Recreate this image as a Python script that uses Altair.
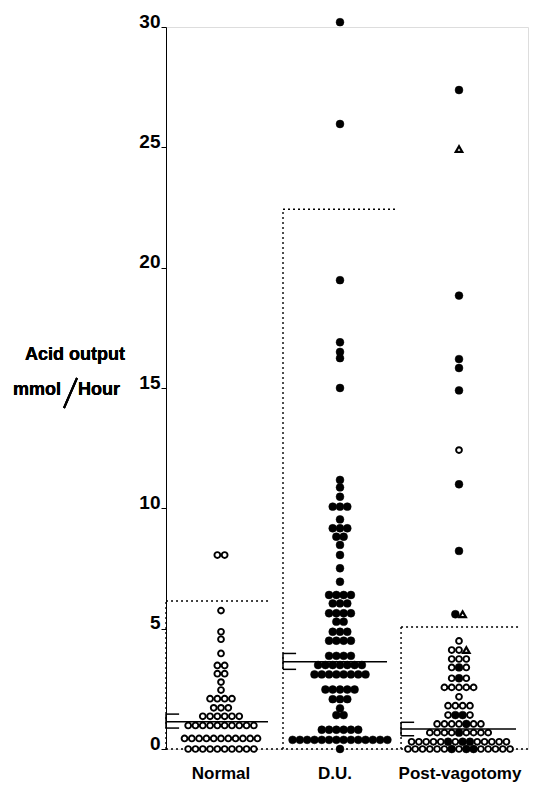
import altair as alt
import pandas as pd

groups = ["Normal", "D.U.", "Post-vagotomy"]

# rows of the dot plot: (acid output, marker kinds; o = open, f = filled, t = triangle)
normal_rows = [
    (8.06, "oo"), (5.75, "o"), (4.87, "o"), (4.56, "o"), (3.97, "o"),
    (3.47, "oo"), (3.13, "oo"), (2.78, "o"), (2.45, "o"), (2.09, "oooo"),
    (1.71, "ooo"), (1.36, "oooooo"), (0.98, "oooooooooo"),
    (0.44, "ooooooooooo"), (0.0, "oooooooooo"),
]
du_rows = [
    (30.2, "f"), (25.97, "f"), (19.48, "f"), (16.9, "f"), (16.5, "f"), (16.24, "f"),
    (15.0, "f"), (11.18, "f"), (10.87, "f"), (10.48, "f"), (10.07, "fff"),
    (9.54, "f"), (9.17, "fff"), (8.82, "ff"), (8.48, "f"), (8.06, "f"),
    (7.51, "f"), (6.95, "f"), (6.40, "ffff"), (6.05, "fff"), (5.64, "ffff"),
    (5.29, "ff"), (4.87, "fff"), (4.50, "ffff"), (3.87, "ffff"), (3.49, "fffffff"),
    (3.10, "ffffffff"), (2.47, "fffff"), (2.07, "fff"), (1.69, "f"), (1.41, "ff"),
    (0.80, "ffffff"), (0.38, "ffffffffffffff"), (0.0, "f"),
]
pv_rows = [
    (27.38, "f"), (24.93, "t"), (18.84, "f"), (16.2, "f"), (15.83, "f"), (14.9, "f"),
    (12.42, "o"), (11.0, "f"), (8.23, "f"), (5.6, "ft"),
    (4.49, "o"), (4.11, "oot"), (3.74, "ooo"), (3.39, "ofo"), (2.94, "ofo"),
    (2.56, "ooooo"), (2.17, "o"), (1.80, "oooo"), (1.41, "offo"),
    (1.04, "oooofoo"), (0.68, "oooofoooo"), (0.30, "ooooofoffooooo"),
    (0.0, "oooooofoffooooo"),
]

box_tops = [6.15, 22.43, 5.07]      # dotted range boxes
means = [1.13, 3.63, 0.83]
sem_lo = [0.87, 3.31, 0.55]
sem_hi = [1.45, 3.97, 1.11]
y_ticks = [0, 5, 10, 15, 20, 25, 30]

# layout constants (group units / pixels)
PITCH = 0.0613
XMIN, XMAX = -0.4622, 2.5798
box_left = [-0.462, -0.479, -0.487]
box_right = [0.412, 0.487, 0.513]
mean_right = [0.395, 0.395, 0.479]
label_dx = [0, -5, 1]
BRACKET = 0.11

W, H = 362, 722
FONT = "Liberation Sans"

rows_by_group = [normal_rows, du_rows, pv_rows]
recs = []
for gi, rows in enumerate(rows_by_group):
    for v, kinds in rows:
        n = len(kinds)
        for i, k in enumerate(kinds):
            recs.append(dict(group=groups[gi], gi=gi, value=v, kind=k,
                             x=gi + (i - (n - 1) / 2) * PITCH))
pts = pd.DataFrame(recs)

dotted = []
solid = []
for gi in range(3):
    L, R = gi + box_left[gi], gi + box_right[gi]
    dotted.append(dict(x=L, x2=L, y=0, y2=box_tops[gi]))
    dotted.append(dict(x=L, x2=R, y=box_tops[gi], y2=box_tops[gi]))
    M = gi + mean_right[gi]
    solid.append(dict(x=L, x2=M, y=means[gi], y2=means[gi]))
    solid.append(dict(x=L, x2=L, y=sem_lo[gi], y2=sem_hi[gi]))
    solid.append(dict(x=L, x2=L + BRACKET, y=sem_lo[gi], y2=sem_lo[gi]))
    solid.append(dict(x=L, x2=L + BRACKET, y=sem_hi[gi], y2=sem_hi[gi]))
dotted.append(dict(x=XMIN, x2=XMAX, y=0, y2=0))
dotted_df = pd.DataFrame(dotted)
solid_df = pd.DataFrame(solid)
lab_df = pd.DataFrame(dict(group=groups, gi=[0, 1, 2]))

xscale = alt.Scale(domain=[XMIN, XMAX], nice=False, zero=False)
yscale = alt.Scale(domain=[0, 30], nice=False, zero=True)
yaxis = alt.Axis(values=y_ticks, grid=False, tickSize=5, tickColor="black",
                 domainColor="black", domainWidth=1, tickWidth=1,
                 labelFont=FONT, labelFontWeight="bold", labelFontSize=19,
                 labelColor="black", labelPadding=1, labelBaseline="alphabetic",
                 title=None)


def X(f):
    return alt.X(f, type="quantitative", scale=xscale, axis=None)


def Y(f):
    return alt.Y(f, type="quantitative", scale=yscale, axis=yaxis)


dot_rules = alt.Chart(dotted_df).mark_rule(
    color="black", strokeWidth=1.4, strokeDash=[2, 3]
).encode(x=X("x"), x2="x2", y=Y("y"), y2="y2")

solid_rules = alt.Chart(solid_df).mark_rule(
    color="black", strokeWidth=1.5
).encode(x=X("x"), x2="x2", y=Y("y"), y2="y2")

open_pts = alt.Chart(pts).transform_filter("datum.kind == 'o'").mark_point(
    shape="circle", filled=True, fill="white", stroke="black",
    strokeWidth=1.9, size=34, opacity=1
).encode(x=X("x"), y=Y("value"))

filled_pts = alt.Chart(pts).transform_filter("datum.kind == 'f'").mark_point(
    shape="circle", filled=True, fill="black", stroke="black",
    strokeWidth=0.5, size=62, opacity=1
).encode(x=X("x"), y=Y("value"))

tri_pts = alt.Chart(pts).transform_filter("datum.kind == 't'").mark_point(
    shape="triangle-up", filled=True, fill="white", stroke="black",
    strokeWidth=2.2, size=42, opacity=1
).encode(x=X("x"), y=Y("value"))

cat_layers = []
for gi in range(3):
    cat_layers.append(
        alt.Chart(lab_df).transform_filter(f"datum.gi == {gi}").mark_text(
            font=FONT, fontWeight="bold", fontSize=17, color="black",
            baseline="middle", dx=label_dx[gi]
        ).encode(x=X("gi"), y=alt.value(H + 25), text="group:N")
    )

title_base = dict(font=FONT, fontWeight="bold", fontSize=18, color="black", baseline="middle")
t1 = alt.Chart(lab_df).mark_text(align="center", **title_base).encode(
    x=alt.value(-91), y=alt.value(328), text=alt.value("Acid output"))
t2 = alt.Chart(lab_df).mark_text(align="center", **title_base).encode(
    x=alt.value(-129), y=alt.value(363), text=alt.value("mmol"))
t3 = alt.Chart(lab_df).mark_text(align="center", **title_base).encode(
    x=alt.value(-67), y=alt.value(363), text=alt.value("Hour"))
slash = alt.Chart(lab_df).mark_rule(color="black", strokeWidth=2).encode(
    x=alt.value(-102), y=alt.value(381), x2=alt.value(-89), y2=alt.value(351))

chart = alt.layer(
    dot_rules, solid_rules, open_pts, filled_pts, tri_pts, *cat_layers, t1, t2, t3, slash
).properties(
    width=W, height=H,
    autosize=alt.AutoSizeParams(type="none"),
    padding={"left": 158, "top": 19, "right": 1, "bottom": 50},
).configure_view(stroke=None).configure(background="white")

chart.save("out.html", embed_options={"renderer": "svg", "actions": False})
